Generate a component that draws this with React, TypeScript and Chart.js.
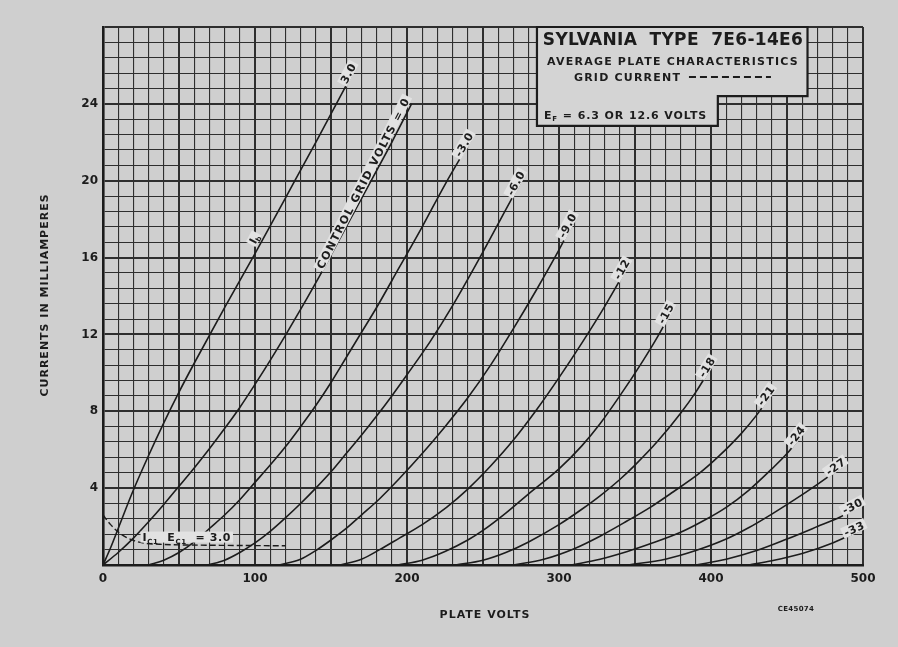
import React, { useEffect, useRef } from 'react';
import { Chart, registerables } from 'chart.js';

Chart.register(...registerables);

const PAPER = '#cfcfcf';
const BOX_FILL = '#d4d4d4';
const PATCH = '#e2e2e2';
const INK = '#1c1c1c';
const GRID_INK = '#2e2e2e';
const FONT = "'DejaVu Sans', 'Liberation Sans', sans-serif";

// plate volts axis
const X_MAX = 500;
const X_STEP = 10;
const X_LABELS = [0, 100, 200, 300, 400, 500];
// milliampere axis (grid every 0.8 mA)
const Y_MAX = 28;
const Y_STEP = 0.8;
const Y_LABELS = [4, 8, 12, 16, 20, 24];

// plate current curves, [plate volts, mA]
const EC_P3 = [[0, 0], [5, 0.9], [10, 1.9], [20, 3.9], [30, 5.7], [40, 7.4], [50, 9.0], [60, 10.5], [80, 13.4], [100, 16.2], [120, 19.1], [140, 22.0], [165, 25.7]];
const EC_0 = [[0, 0], [10, 0.65], [20, 1.4], [30, 2.25], [40, 3.15], [50, 4.1], [60, 5.05], [70, 6.05], [80, 7.1], [90, 8.2], [100, 9.4], [110, 10.65], [120, 11.95], [130, 13.3], [145, 15.4], [160, 17.6], [175, 19.8], [190, 22.0], [203, 24.0]];
const EC_M3 = [[30, 0], [40, 0.25], [50, 0.65], [60, 1.2], [70, 1.9], [80, 2.6], [90, 3.4], [100, 4.3], [110, 5.2], [120, 6.15], [130, 7.2], [140, 8.3], [150, 9.5], [160, 10.8], [170, 12.1], [180, 13.4], [195, 15.5], [210, 17.6], [225, 19.8], [242, 22.1]];
const EC_M6 = [[69, 0], [80, 0.25], [90, 0.65], [100, 1.15], [110, 1.75], [120, 2.45], [130, 3.2], [140, 4.0], [150, 4.85], [160, 5.8], [170, 6.75], [180, 7.75], [190, 8.8], [200, 9.9], [215, 11.6], [230, 13.5], [250, 16.3], [265, 18.5], [276, 20.1]];
const EC_M9 = [[116, 0], [130, 0.3], [140, 0.75], [150, 1.3], [160, 1.9], [170, 2.6], [182, 3.45], [195, 4.5], [210, 5.8], [225, 7.2], [240, 8.7], [255, 10.4], [270, 12.3], [285, 14.3], [300, 16.4], [310, 17.9]];
const EC_M12 = [[156, 0], [170, 0.3], [182, 0.8], [195, 1.4], [210, 2.1], [226, 3.0], [240, 3.95], [255, 5.15], [270, 6.5], [285, 8.05], [300, 9.75], [315, 11.55], [330, 13.45], [345, 15.5]];
const EC_M15 = [[194, 0], [210, 0.25], [225, 0.7], [240, 1.3], [250, 1.8], [265, 2.7], [280, 3.7], [300, 5.0], [315, 6.2], [327, 7.35], [340, 8.8], [355, 10.6], [365, 11.9], [374, 13.2]];
const EC_M18 = [[232, 0], [250, 0.25], [265, 0.65], [280, 1.2], [300, 2.1], [315, 2.9], [327, 3.6], [340, 4.45], [350, 5.2], [365, 6.45], [380, 7.9], [390, 9.0], [401, 10.4]];
const EC_M21 = [[270, 0], [290, 0.3], [310, 0.85], [327, 1.5], [345, 2.3], [360, 3.0], [375, 3.8], [392, 4.75], [405, 5.65], [420, 6.85], [430, 7.8], [440, 8.9]];
const EC_M24 = [[308, 0], [327, 0.3], [345, 0.7], [360, 1.1], [380, 1.7], [395, 2.3], [410, 3.0], [425, 3.9], [440, 5.0], [450, 5.8], [460, 6.8]];
const EC_M27 = [[345, 0], [370, 0.3], [390, 0.75], [410, 1.35], [425, 1.95], [440, 2.65], [455, 3.4], [470, 4.2], [486, 5.1]];
const EC_M30 = [[390, 0], [410, 0.3], [430, 0.75], [450, 1.35], [470, 2.0], [485, 2.5], [497, 3.0]];
const EC_M33 = [[425, 0], [440, 0.22], [460, 0.6], [480, 1.15], [498, 1.8]];

// grid current at Ec1 = +3.0 (dashed)
const IC1_P3 = [[0, 2.6], [5, 2.1], [10, 1.72], [15, 1.45], [20, 1.28], [26, 1.15], [40, 1.07], [70, 1.03], [120, 1.0]];

const CURVES = [
  { points: EC_P3, tag: '3.0' },
  { points: EC_0, tag: 'CONTROL GRID VOLTS = 0' },
  { points: EC_M3, tag: '-3.0' },
  { points: EC_M6, tag: '-6.0' },
  { points: EC_M9, tag: '-9.0' },
  { points: EC_M12, tag: '-12' },
  { points: EC_M15, tag: '-15' },
  { points: EC_M18, tag: '-18' },
  { points: EC_M21, tag: '-21' },
  { points: EC_M24, tag: '-24' },
  { points: EC_M27, tag: '-27' },
  { points: EC_M30, tag: '-30' },
  { points: EC_M33, tag: '-33' },
];

// where the extra notes sit, in chart units
const IB_TAG_VOLTS = 104;
const IC_TAG_AT = [26, 1.12];
// title box corners (volts / mA)
const BOX_LEFT = 285.5;
const BOX_RIGHT = 463.5;
const BOX_STEP_X = 404.5;
const BOX_MID = 24.4;
const BOX_BOTTOM = 22.85;

const Y_GRID = Array.from({ length: Math.round(Y_MAX / Y_STEP) + 1 }, (_, i) => +(i * Y_STEP).toFixed(1));

type Part = { t: string; sub?: boolean };

const widthOf = (ctx, parts: Part[], size: number) => {
  let w = 0;
  parts.forEach(p => {
    ctx.font = `bold ${p.sub ? Math.round(size * 0.68) : size}px ${FONT}`;
    w += ctx.measureText(p.t).width;
  });
  return w;
};

const drawParts = (ctx, parts: Part[], size: number, x: number, y: number) => {
  parts.forEach(p => {
    const s = p.sub ? Math.round(size * 0.68) : size;
    ctx.font = `bold ${s}px ${FONT}`;
    ctx.fillText(p.t, x, p.sub ? y + size * 0.22 : y);
    x += ctx.measureText(p.t).width;
  });
};

// rotated note with a light patch behind it
const drawTag = (ctx, cx, cy, angle, parts: Part[], size, align, dx, dy, spacing = '0px') => {
  ctx.save();
  ctx.translate(cx, cy);
  ctx.rotate(angle);
  ctx.letterSpacing = spacing;
  const w = widthOf(ctx, parts, size);
  const x0 = align === 'right' ? dx - w : align === 'center' ? dx - w / 2 : dx;
  ctx.fillStyle = PATCH;
  ctx.fillRect(x0 - 2, dy - size * 0.9, w + 4, size * 1.0);
  ctx.fillStyle = INK;
  ctx.textBaseline = 'alphabetic';
  ctx.textAlign = 'left';
  drawParts(ctx, parts, size, x0, dy);
  ctx.restore();
};

const sheetPlugin = {
  id: 'sheet',
  beforeDraw(chart) {
    const { ctx, width, height } = chart;
    ctx.save();
    ctx.fillStyle = PAPER;
    ctx.fillRect(0, 0, width, height);
    ctx.restore();
  },
  afterDatasetsDraw(chart) {
    const { ctx, scales: { x, y }, chartArea } = chart;

    // curve end tags
    CURVES.forEach((c, i) => {
      const pts = chart.getDatasetMeta(i).data;
      const a = pts[pts.length - 2];
      const b = pts[pts.length - 1];
      const ang = Math.atan2(b.y - a.y, b.x - a.x);
      const long = c.tag.length > 6;
      drawTag(ctx, b.x, b.y, ang, [{ t: c.tag }], 11, 'right', long ? 3 : 6, long ? -3 : 0, long ? '1.4px' : '0.5px');
    });

    // Ib note on the +3 curve
    const p3 = EC_P3;
    for (let k = 1; k < p3.length; k++) {
      if (p3[k][0] >= IB_TAG_VOLTS) {
        const [x1, y1] = p3[k - 1];
        const [x2, y2] = p3[k];
        const yv = y1 + (y2 - y1) * (IB_TAG_VOLTS - x1) / (x2 - x1);
        const ang = Math.atan2(y.getPixelForValue(y2) - y.getPixelForValue(y1), x.getPixelForValue(x2) - x.getPixelForValue(x1));
        drawTag(ctx, x.getPixelForValue(IB_TAG_VOLTS), y.getPixelForValue(yv), ang, [{ t: 'I' }, { t: 'b', sub: true }], 11, 'center', 0, -4);
        break;
      }
    }

    // grid current note
    drawTag(ctx, x.getPixelForValue(IC_TAG_AT[0]), y.getPixelForValue(IC_TAG_AT[1]), 0,
      [{ t: 'I' }, { t: 'C1', sub: true }, { t: '  E' }, { t: 'C1', sub: true }, { t: '  = 3.0' }], 11, 'left', 0, -2, '0.6px');

    // title box
    const L = x.getPixelForValue(BOX_LEFT);
    const R = x.getPixelForValue(BOX_RIGHT);
    const S = x.getPixelForValue(BOX_STEP_X);
    const T = chartArea.top;
    const M = y.getPixelForValue(BOX_MID);
    const B = y.getPixelForValue(BOX_BOTTOM);
    ctx.save();
    ctx.beginPath();
    ctx.moveTo(L, T);
    ctx.lineTo(R, T);
    ctx.lineTo(R, M);
    ctx.lineTo(S, M);
    ctx.lineTo(S, B);
    ctx.lineTo(L, B);
    ctx.closePath();
    ctx.fillStyle = BOX_FILL;
    ctx.fill();
    ctx.lineWidth = 2.2;
    ctx.strokeStyle = INK;
    ctx.stroke();

    ctx.fillStyle = INK;
    ctx.textBaseline = 'alphabetic';
    ctx.textAlign = 'center';
    ctx.font = `bold 17px ${FONT}`;
    ctx.letterSpacing = '0.3px';
    ctx.fillText('SYLVANIA  TYPE  7E6-14E6', L + 136, T + 18);
    ctx.font = `bold 11px ${FONT}`;
    ctx.letterSpacing = '1.2px';
    ctx.fillText('AVERAGE PLATE CHARACTERISTICS', L + 136, T + 38);
    ctx.textAlign = 'left';
    ctx.fillText('GRID CURRENT', L + 37, T + 54);
    ctx.setLineDash([7, 4]);
    ctx.lineWidth = 2;
    ctx.beginPath();
    ctx.moveTo(L + 152, T + 50);
    ctx.lineTo(L + 234, T + 50);
    ctx.stroke();
    ctx.setLineDash([]);
    ctx.letterSpacing = '0.9px';
    drawParts(ctx, [{ t: 'E' }, { t: 'F', sub: true }, { t: ' = 6.3 OR 12.6 VOLTS' }], 11, L + 7, T + 92);
    ctx.restore();
  },
  afterDraw(chart) {
    const { ctx, chartArea } = chart;
    ctx.save();
    ctx.fillStyle = INK;
    ctx.textAlign = 'center';
    ctx.textBaseline = 'middle';
    ctx.font = `bold 11px ${FONT}`;
    ctx.letterSpacing = '1px';
    ctx.fillText('PLATE VOLTS', (chartArea.left + chartArea.right) / 2 + 2, chartArea.bottom + 50);
    ctx.font = `bold 7px ${FONT}`;
    ctx.letterSpacing = '0.3px';
    ctx.fillText('CE45074', chartArea.right - 67, chartArea.bottom + 44);
    ctx.translate(45, 295);
    ctx.rotate(-Math.PI / 2);
    ctx.font = `bold 11px ${FONT}`;
    ctx.letterSpacing = '1px';
    ctx.fillText('CURRENTS IN MILLIAMPERES', 0, 0);
    ctx.restore();
  },
};

const isMajorY = (v: number) => Math.abs(v / 4 - Math.round(v / 4)) < 1e-6;

const TubeChart = () => {
  const canvasRef = useRef<HTMLCanvasElement>(null);
  const chartRef = useRef<Chart | null>(null);

  useEffect(() => {
    if (!canvasRef.current) return;
    document.body.style.margin = '0';
    document.body.style.background = PAPER;

    const datasets: any[] = CURVES.map(c => ({
      data: c.points.map(([vx, vy]) => ({ x: vx, y: vy })),
      borderColor: INK,
      borderWidth: 1.6,
      pointRadius: 0,
      fill: false,
      cubicInterpolationMode: 'monotone',
    }));
    datasets.push({
      data: IC1_P3.map(([vx, vy]) => ({ x: vx, y: vy })),
      borderColor: INK,
      borderWidth: 1.4,
      borderDash: [6, 3],
      pointRadius: 0,
      fill: false,
      cubicInterpolationMode: 'monotone',
    });

    const tickFont = { family: FONT, weight: 'bold' as const, size: 12 };

    chartRef.current = new Chart(canvasRef.current, {
      type: 'line',
      data: { datasets },
      plugins: [sheetPlugin],
      options: {
        responsive: false,
        animation: false,
        layout: { padding: { left: 43, right: 35, top: 27, bottom: 52 } },
        plugins: { legend: { display: false }, tooltip: { enabled: false } },
        scales: {
          x: {
            type: 'linear',
            min: 0,
            max: X_MAX,
            afterFit: s => { s.height = 30; },
            ticks: {
              stepSize: X_STEP,
              autoSkip: false,
              maxRotation: 0,
              padding: 7,
              color: INK,
              font: tickFont,
              callback: v => (X_LABELS.includes(Number(v)) ? String(v) : ''),
            },
            grid: {
              drawTicks: false,
              color: GRID_INK,
              lineWidth: c => (c.tick && c.tick.value % 50 === 0 ? 2 : 1.1),
            },
            border: { display: true, color: INK, width: 2.6 },
          },
          y: {
            type: 'linear',
            min: 0,
            max: Y_MAX,
            afterFit: s => { s.width = 60; },
            afterBuildTicks: s => { s.ticks = Y_GRID.map(v => ({ value: v })); },
            ticks: {
              autoSkip: false,
              padding: 5,
              color: INK,
              font: tickFont,
              callback: v => (Y_LABELS.some(l => Math.abs(l - Number(v)) < 1e-6) ? String(Math.round(Number(v))) : ''),
            },
            grid: {
              drawTicks: false,
              color: GRID_INK,
              lineWidth: c => (c.tick && isMajorY(c.tick.value) ? 2 : 1.1),
            },
            border: { display: true, color: INK, width: 2.6 },
          },
        },
      },
    });

    return () => {
      if (chartRef.current) {
        chartRef.current.destroy();
        chartRef.current = null;
      }
    };
  }, []);

  return (
    <div style={{ width: 898, height: 647, background: PAPER }}>
      <canvas ref={canvasRef} width={898} height={647} />
    </div>
  );
};

export default function App() {
  return <TubeChart />;
}
